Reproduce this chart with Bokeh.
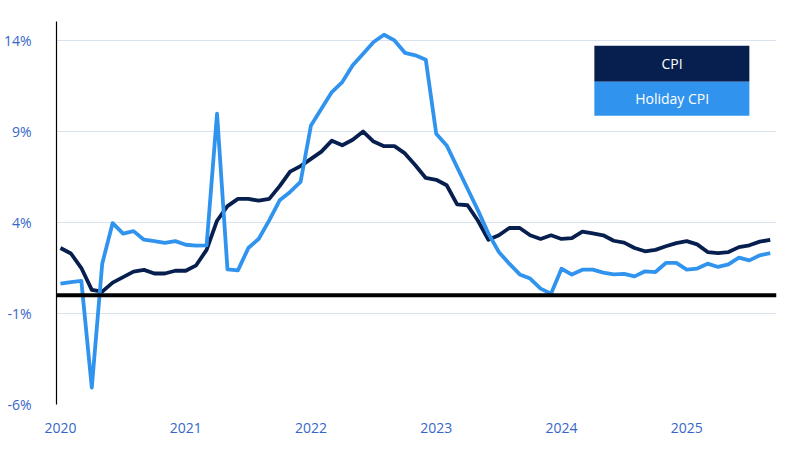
from bokeh.embed import file_html
from bokeh.models import (BoxAnnotation, FixedTicker, Label, PrintfTickFormatter,
                          Range1d, Span)
from bokeh.plotting import figure
from bokeh.resources import INLINE

# year labels shown on the x axis (one tick per January)
YEARS = ["2020", "2021", "2022", "2023", "2024", "2025"]

# monthly year-over-year change in %, Jan 2020 .. Sep 2025
CPI = [
    2.6, 2.3, 1.5, 0.3, 0.2, 0.7, 1.0, 1.3, 1.4, 1.2, 1.2, 1.35,
    1.35, 1.65, 2.5, 4.1, 4.9, 5.3, 5.3, 5.2, 5.3, 6.0, 6.8, 7.1,
    7.5, 7.9, 8.5, 8.25, 8.55, 9.0, 8.45, 8.2, 8.2, 7.8, 7.15, 6.45,
    6.35, 6.05, 5.0, 4.95, 4.1, 3.05, 3.3, 3.7, 3.7, 3.3, 3.1, 3.3,
    3.1, 3.15, 3.5, 3.4, 3.3, 3.0, 2.9, 2.6, 2.42, 2.5, 2.7, 2.87,
    2.98, 2.8, 2.38, 2.32, 2.38, 2.65, 2.75, 2.95, 3.05,
]
HOLIDAY_CPI = [
    0.64, 0.73, 0.79, -5.07, 1.74, 3.97, 3.39, 3.53, 3.06, 2.98, 2.88, 2.98,
    2.78, 2.73, 2.75, 9.98, 1.43, 1.37, 2.6, 3.11, 4.12, 5.22, 5.68, 6.23,
    9.34, 10.26, 11.17, 11.72, 12.64, 13.28, 13.92, 14.32, 14.01, 13.33, 13.19, 12.95,
    8.88, 8.24, 7.05, 5.86, 4.67, 3.39, 2.38, 1.74, 1.15, 0.92, 0.37, 0.09,
    1.46, 1.14, 1.41, 1.41, 1.25, 1.15, 1.18, 1.04, 1.32, 1.28, 1.78, 1.78,
    1.41, 1.47, 1.74, 1.56, 1.7, 2.07, 1.92, 2.2, 2.32,
]
Y_TICKS = [-6, -1, 4, 9, 14]

NAVY = "#071f4e"
LIGHT = "#3094ee"
TICK_BLUE = "#3566c9"
FONT = "Open Sans"

months = list(range(len(CPI)))

p = figure(
    frame_width=720,
    frame_height=383,
    x_range=Range1d(-0.38, 68.6),
    y_range=Range1d(-6, 15.05),
    output_backend="svg",
    toolbar_location=None,
    background_fill_color="white",
    border_fill_color="white",
)
p.min_border_left = 45
p.min_border_right = 19
p.min_border_top = 21
p.min_border_bottom = 32
p.outline_line_color = None

# axes
p.xaxis.ticker = FixedTicker(ticks=[12 * i for i in range(len(YEARS))])
p.xaxis.major_label_overrides = {12 * i: y for i, y in enumerate(YEARS)}
p.xaxis.axis_line_color = None
p.xaxis.major_tick_line_color = None
p.xaxis.minor_tick_line_color = None
p.xaxis.major_label_standoff = 12

p.yaxis.ticker = FixedTicker(ticks=Y_TICKS)
p.yaxis.formatter = PrintfTickFormatter(format="%d%%")
p.yaxis.axis_line_color = "black"
p.yaxis.axis_line_width = 1.2
p.yaxis.major_tick_line_color = None
p.yaxis.minor_tick_line_color = None
p.yaxis.major_label_standoff = 19

for ax in (p.xaxis, p.yaxis):
    ax.major_label_text_color = TICK_BLUE
    ax.major_label_text_font = FONT
    ax.major_label_text_font_size = "14px"

p.xgrid.grid_line_color = None
p.ygrid.grid_line_color = "#dbe2ef"
p.ygrid.grid_line_width = 1

# zero line
p.add_layout(Span(location=0, dimension="width", line_color="black", line_width=4))

# series
p.line(months, CPI, line_color=NAVY, line_width=3.8, line_join="round")
p.line(months, HOLIDAY_CPI, line_color=LIGHT, line_width=3.8, line_join="round")

# legend boxes
p.add_layout(BoxAnnotation(left=51.15, right=66.0, top=13.72, bottom=11.74,
                           fill_color=NAVY, fill_alpha=1, line_color=None))
p.add_layout(BoxAnnotation(left=51.15, right=66.0, top=11.74, bottom=9.87,
                           fill_color=LIGHT, fill_alpha=1, line_color=None))
for text, yy in (("CPI", 12.73), ("Holiday CPI", 10.8)):
    p.add_layout(Label(x=58.6, y=yy, text=text, text_align="center",
                       text_baseline="middle", text_color="white",
                       text_font=FONT, text_font_size="14px"))

open("out.html", "w").write(file_html(p, INLINE))
